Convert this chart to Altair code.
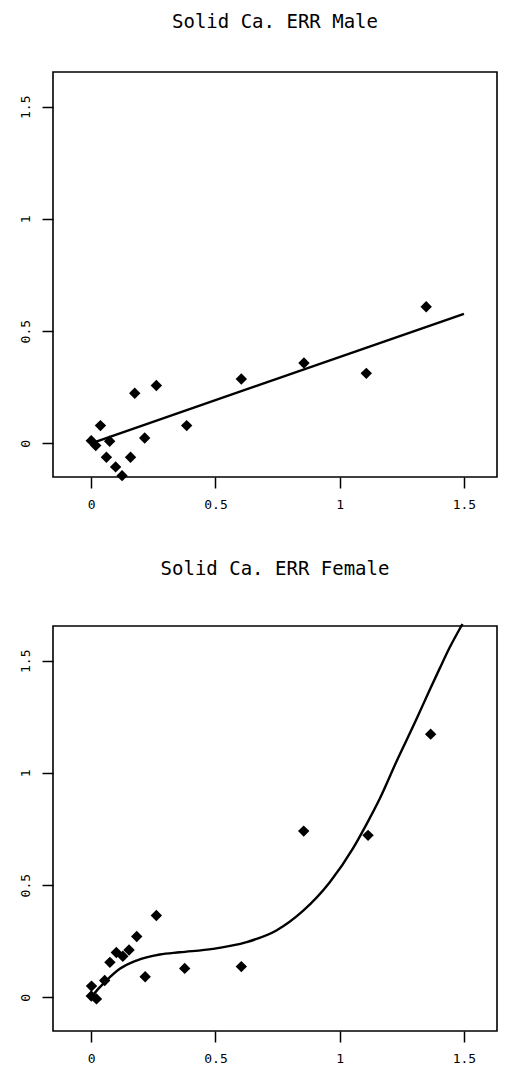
import altair as alt
import pandas as pd

# ---- data ----
male_dose = [0.0, 0.018, 0.037, 0.074, 0.061, 0.098, 0.124, 0.158, 0.175, 0.215, 0.262, 0.384, 0.604, 0.856, 1.107, 1.348]
male_err = [0.012, -0.010, 0.079, 0.009, -0.062, -0.105, -0.144, -0.062, 0.223, 0.024, 0.258, 0.079, 0.287, 0.358, 0.312, 0.609]

male_fit_dose = [0.02, 1.5]
male_fit_err = [0.008, 0.577]

female_dose = [0.0, 0.001, 0.021, 0.054, 0.075, 0.101, 0.127, 0.152, 0.183, 0.217, 0.262, 0.376, 0.604, 0.855, 1.114, 1.366]
female_err = [0.006, 0.050, -0.007, 0.075, 0.156, 0.200, 0.183, 0.211, 0.271, 0.092, 0.365, 0.129, 0.137, 0.741, 0.722, 1.173]

female_fit_dose = [0.0, 0.03, 0.061, 0.115, 0.182, 0.276, 0.356, 0.49, 0.625, 0.745, 0.852, 0.96, 1.054, 1.107, 1.161, 1.228, 1.309, 1.362, 1.402, 1.443, 1.494]
female_fit_err = [0.0, 0.04, 0.075, 0.127, 0.164, 0.191, 0.201, 0.216, 0.246, 0.298, 0.385, 0.513, 0.665, 0.77, 0.885, 1.05, 1.24, 1.37, 1.465, 1.56, 1.664]

tick_values = [0, 0.5, 1, 1.5]
titles = ["Solid Ca. ERR Male", "Solid Ca. ERR Female"]

X_DOMAIN = [-0.154, 1.633]
Y_DOMAIN = [-0.15, 1.655]
W, H = 444, 405
FONT = "DejaVu Sans Mono"


def panel(title, dose, err, fit_dose, fit_err):
    pts = pd.DataFrame({"dose": dose, "err": err})
    fit = pd.DataFrame({"dose": fit_dose, "err": fit_err})
    xenc = alt.X("dose:Q", scale=alt.Scale(domain=X_DOMAIN, nice=False, zero=False),
                 axis=alt.Axis(values=tick_values, format="~g", title=None,
                               labelPadding=10, grid=False))
    yenc = alt.Y("err:Q", scale=alt.Scale(domain=Y_DOMAIN, nice=False, zero=False),
                 axis=alt.Axis(values=tick_values, format="~g", title=None,
                               labelAngle=270, labelAlign="center",
                               labelBaseline="bottom", labelPadding=10, grid=False))
    line = alt.Chart(fit).mark_line(color="black", strokeWidth=2.4,
                                    interpolate="monotone").encode(x=xenc, y=yenc)
    points = alt.Chart(pts).mark_point(shape="diamond", filled=True, color="black",
                                       size=130, opacity=1).encode(x=xenc, y=yenc)
    return alt.layer(line, points).properties(
        width=W, height=H,
        title=alt.TitleParams(text=title, font=FONT, fontSize=19, fontWeight="normal",
                              anchor="middle", color="black", offset=40),
    )


top = panel(titles[0], male_dose, male_err, male_fit_dose, male_fit_err)
bottom = panel(titles[1], female_dose, female_err, female_fit_dose, female_fit_err)

chart = alt.vconcat(top, bottom, spacing=47).properties(
    padding={"left": 10, "top": 4, "right": 0, "bottom": 0},
    background="white",
).configure_view(
    stroke="black", strokeWidth=1.6
).configure_axis(
    domain=False, grid=False, tickColor="black", tickSize=11, tickWidth=1.5,
    labelFont=FONT, labelFontSize=13, labelColor="black"
)

chart.save("out.html", embed_options={"renderer": "svg", "actions": False})
